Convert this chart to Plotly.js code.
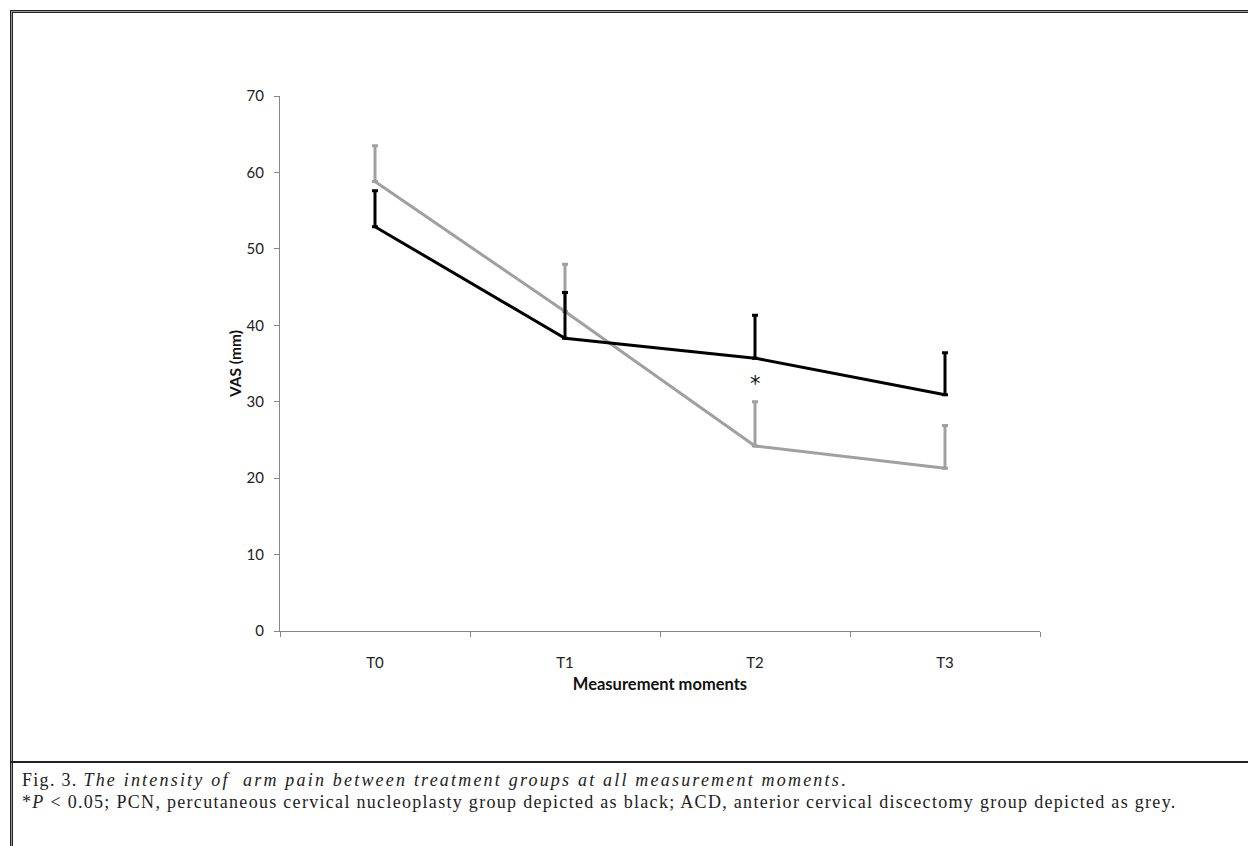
<!DOCTYPE html>
<html>
<head>
<meta charset="utf-8">
<script src="https://cdn.plot.ly/plotly-3.0.1.min.js"></script>
<style>
  html, body { margin: 0; padding: 0; background: #fff; }
  #wrap { position: relative; width: 1248px; height: 846px; overflow: hidden; background: #fff; }
  #chart { position: absolute; left: 0; top: 0; width: 1248px; height: 846px; }
  #frame { position: absolute; left: 10px; top: 10px; width: 1300px; height: 900px;
           border-left: 1px solid #222; border-top: 1px solid #222; box-sizing: border-box; }
  #frame2 { position: absolute; left: 12px; top: 12px; width: 1300px; height: 900px;
           border-left: 1px solid #222; border-top: 1px solid #222; box-sizing: border-box; }
  #frameg { position: absolute; left: 11px; top: 11px; width: 1300px; height: 900px;
           border-left: 1px solid #999; border-top: 1px solid #999; box-sizing: border-box; }
  #sep { position: absolute; left: 10px; top: 761px; width: 1300px; height: 2px; background: #222; }
  .cap { position: absolute; left: 22px; font-family: "Liberation Serif", "DejaVu Serif", serif;
         font-size: 18px; line-height: normal; color: #222; white-space: nowrap; letter-spacing: 1.3px; }
  .cap i.wide { letter-spacing: 2.2px; }
</style>
</head>
<body>
<div id="wrap">
  <div id="frame"></div><div id="frameg"></div><div id="frame2"></div>
  <div id="chart"></div>
  <div id="sep"></div>
  <div class="cap" id="cap1" style="top:770px;">Fig. 3. <i class="wide">The intensity of&nbsp; arm pain between treatment groups at all measurement moments</i>.</div>
  <div class="cap" id="cap2" style="top:792px;">*<i>P</i> &lt; 0.05; PCN, percutaneous cervical nucleoplasty group depicted as black; ACD, anterior cervical discectomy group depicted as grey.</div>
</div>
<script>
// Data
var moments = ["T0", "T1", "T2", "T3"];
var pcnMean = [52.9, 38.3, 35.7, 30.9];
var pcnErrUp = [4.7, 6.0, 5.6, 5.5];
var acdMean = [58.8, 41.8, 24.2, 21.3];
var acdErrUp = [4.7, 6.2, 5.8, 5.6];
var zeros = [0, 0, 0, 0];
var yTicks = [0, 10, 20, 30, 40, 50, 60, 70];

var traces = [
  {
    x: moments, y: acdMean, type: "scatter", mode: "lines", name: "ACD",
    line: { color: "#a0a0a0", width: 3 },
    error_y: { type: "data", symmetric: false, array: acdErrUp, arrayminus: zeros,
               color: "#a0a0a0", thickness: 3, width: 3 }
  },
  {
    x: moments, y: pcnMean, type: "scatter", mode: "lines", name: "PCN",
    line: { color: "#000000", width: 3 },
    error_y: { type: "data", symmetric: false, array: pcnErrUp, arrayminus: zeros,
               color: "#000000", thickness: 3, width: 3 }
  }
];

var fam = "Lato, 'Open Sans', sans-serif";
var axisFont = { family: fam, size: 15, color: "#222" };

var layout = {
  width: 1248, height: 846,
  margin: { l: 280, r: 208, t: 96, b: 215 },
  paper_bgcolor: "rgba(0,0,0,0)",
  plot_bgcolor: "rgba(0,0,0,0)",
  showlegend: false,
  xaxis: {
    type: "category", range: [-0.5, 3.5],
    showline: true, linecolor: "#868686", linewidth: 1,
    ticks: "outside", tickson: "boundaries", ticklen: 5, tickcolor: "#868686",
    showgrid: false, zeroline: false,
    tickfont: axisFont, ticklabelstandoff: 18,
    title: { text: "<b>Measurement moments</b>", font: { family: fam, size: 16.5, color: "#111" }, standoff: 8 }
  },
  yaxis: {
    range: [0, 70], tickvals: yTicks,
    showline: true, linecolor: "#868686", linewidth: 1,
    ticks: "outside", ticklen: 5, tickcolor: "#868686",
    showgrid: false, zeroline: false,
    tickfont: axisFont, ticklabelstandoff: 7,
    title: { text: "<b>VAS (mm)</b>", font: { family: fam, size: 15.5, color: "#111" }, standoff: 1 }
  },
  annotations: [
    { x: "T2", y: 32.3, xref: "x", yref: "y", text: "*", showarrow: false,
      font: { family: "'DejaVu Sans', sans-serif", size: 21, color: "#111" } }
  ]
};

Plotly.newPlot("chart", traces, layout, { staticPlot: true, displayModeBar: false });
</script>
</body>
</html>
